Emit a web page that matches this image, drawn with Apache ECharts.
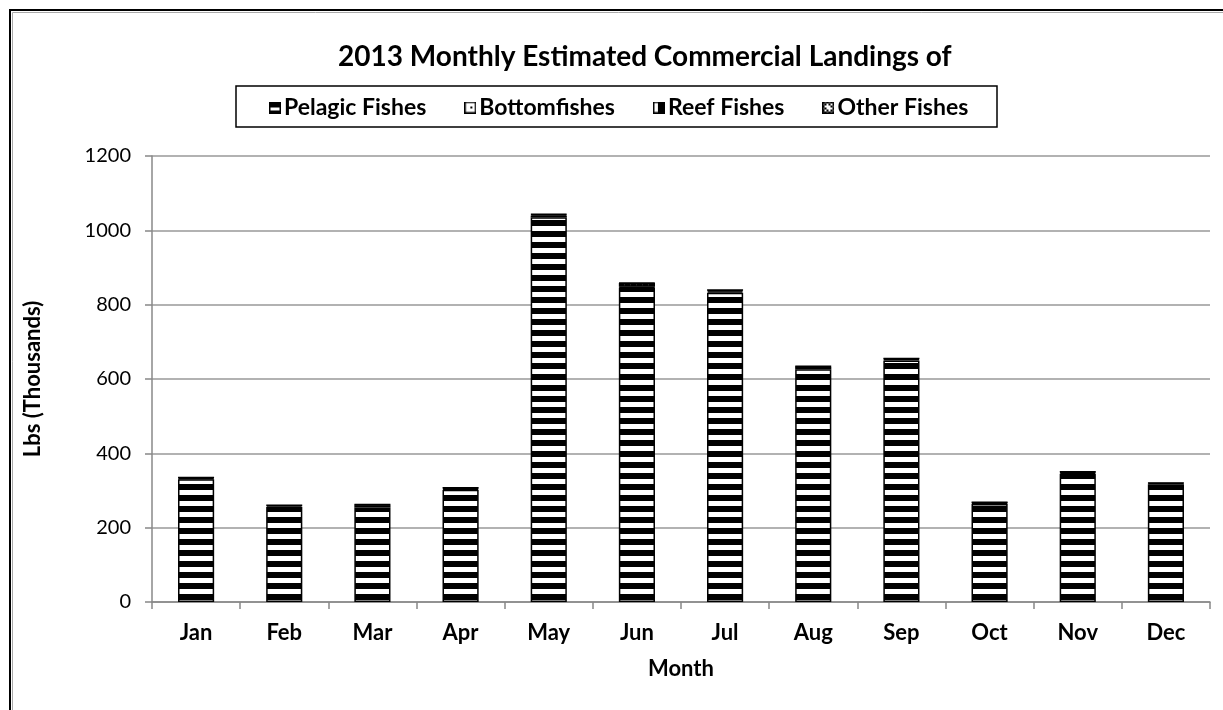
<!DOCTYPE html>
<html><head><meta charset="utf-8">
<script src="https://cdn.jsdelivr.net/npm/echarts@6/dist/echarts.min.js"></script>
<style>html,body{margin:0;padding:0;background:#fff}#c{width:1223px;height:710px}</style>
</head><body><div id="c"></div>
<script>
const months = ['Jan','Feb','Mar','Apr','May','Jun','Jul','Aug','Sep','Oct','Nov','Dec'];
const seriesNames = ['Pelagic Fishes','Bottomfishes','Reef Fishes','Other Fishes'];
const pelagic = [330, 250, 254, 302, 1035, 846, 832, 626, 650, 264, 345, 312];
const bottomfishes = [3, 6, 6, 3, 5, 2, 4, 6, 3, 2, 3, 5];
const reef = [2, 4, 2, 2, 3, 10, 3, 2, 2, 2, 2, 3];
const other = [0.5, 0.5, 0.5, 0.5, 1, 1, 0.5, 0.5, 0.5, 0.5, 0.5, 0.5];
const yTicks = {min: 0, max: 1200, interval: 200};
const FONT = 'Lato, "Open Sans", sans-serif';

function mk(w, h, draw) {
  const c = document.createElement('canvas'); c.width = w; c.height = h;
  const g = c.getContext('2d'); draw(g, w, h); return c;
}
// bar fill patterns
const patPelagic = mk(8, 11, (g, w, h) => { g.fillStyle = '#000'; g.fillRect(0,0,w,h); g.fillStyle = '#fff'; g.fillRect(0,6,w,5); });
const patBottom = mk(8, 8, (g, w, h) => { g.fillStyle = '#fff'; g.fillRect(0,0,w,h); g.fillStyle = '#777'; g.fillRect(1,3,2,1); g.fillRect(5,3,2,1); });
const patReef = mk(6, 6, (g, w, h) => { g.fillStyle = '#000'; g.fillRect(0,0,w,h); g.fillStyle = '#444'; g.fillRect(0,0,1,h); });
const patOther = mk(4, 4, (g, w, h) => { g.fillStyle = '#fff'; g.fillRect(0,0,w,h); g.fillStyle = '#000'; g.fillRect(0,0,2,2); g.fillRect(2,2,2,2); });

// legend icons
function icon(draw) {
  return 'image://' + mk(12, 12, (g, w, h) => {
    g.fillStyle = '#fff'; g.fillRect(0,0,w,h); draw(g);
    g.strokeStyle = '#000'; g.lineWidth = 1.5; g.strokeRect(0.75,0.75,w-1.5,h-1.5);
  }).toDataURL();
}
const icons = [
  icon(g => { g.fillStyle = '#000'; g.fillRect(0,0,12,6); g.fillRect(0,9,12,3); }),
  icon(g => { g.fillStyle = '#000'; g.fillRect(6,5,2,2); }),
  icon(g => { g.fillStyle = '#000'; g.fillRect(5,0,7,12); }),
  icon(g => { g.fillStyle = '#000'; for (let i=0;i<12;i+=2) for (let j=0;j<12;j+=2) if (((i+j)/2)%2===0) g.fillRect(i,j,2,2); g.fillStyle='#fff'; g.fillRect(4,4,4,4); })
];
const pats = [patPelagic, patBottom, patReef, patOther];
const datas = [pelagic, bottomfishes, reef, other];

const chart = echarts.init(document.getElementById('c'), null, {renderer: 'canvas'});
chart.setOption({
  backgroundColor: '#fff',
  animation: false,
  title: {
    text: '2013 Monthly Estimated Commercial Landings of',
    left: 333, top: 38,
    textStyle: {fontFamily: FONT, fontWeight: 'bold', fontSize: 28, color: '#000'}
  },
  graphic: [
    {type: 'rect', shape: {x: 10, y: 10, width: 1300, height: 800}, style: {fill: 'none', stroke: '#000', lineWidth: 2}, silent: true},
    {type: 'rect', shape: {x: 12.5, y: 12.5, width: 1300, height: 800}, style: {fill: 'none', stroke: '#aaa', lineWidth: 1}, silent: true},
    {type: 'rect', shape: {x: 236, y: 86, width: 761, height: 41}, style: {fill: 'none', stroke: '#000', lineWidth: 1.5}, silent: true}
  ],
  legend: {
    left: 264, top: 91,
    itemWidth: 12, itemHeight: 12, itemGap: 38,
    data: seriesNames.map((n, i) => ({name: n, icon: icons[i]})),
    textStyle: {fontFamily: FONT, fontWeight: 'bold', fontSize: 23, color: '#000', padding: [0,0,0,-2]}
  },
  grid: {left: 152, right: 13, top: 156, bottom: 108},
  xAxis: {
    type: 'category', data: months,
    name: 'Month', nameLocation: 'middle', nameGap: 56,
    nameTextStyle: {fontFamily: FONT, fontWeight: 'bold', fontSize: 22, color: '#000'},
    axisLine: {lineStyle: {color: '#888', width: 1.5}},
    axisTick: {show: true, length: 7, lineStyle: {color: '#888', width: 1.5}},
    axisLabel: {fontFamily: FONT, fontWeight: 'bold', fontSize: 22, color: '#000', margin: 20}
  },
  yAxis: {
    type: 'value', min: yTicks.min, max: yTicks.max, interval: yTicks.interval,
    name: 'Lbs (Thousands)', nameLocation: 'middle', nameGap: 108, nameRotate: 90,
    nameTextStyle: {fontFamily: FONT, fontWeight: 'bold', fontSize: 22, color: '#000'},
    axisLine: {show: true, lineStyle: {color: '#888', width: 1.5}},
    axisTick: {show: true, length: 7, lineStyle: {color: '#888', width: 1.5}},
    axisLabel: {fontFamily: FONT, fontSize: 20, color: '#000', margin: 21, formatter: v => String(v)},
    splitLine: {lineStyle: {color: '#999', width: 1.5}}
  },
  series: seriesNames.map((n, i) => ({
    name: n, type: 'bar', stack: 'total', barWidth: '41%',
    data: datas[i],
    itemStyle: {color: {image: pats[i], repeat: 'repeat'}, borderColor: '#000', borderWidth: 1.5}
  }))
});
</script></body></html>
